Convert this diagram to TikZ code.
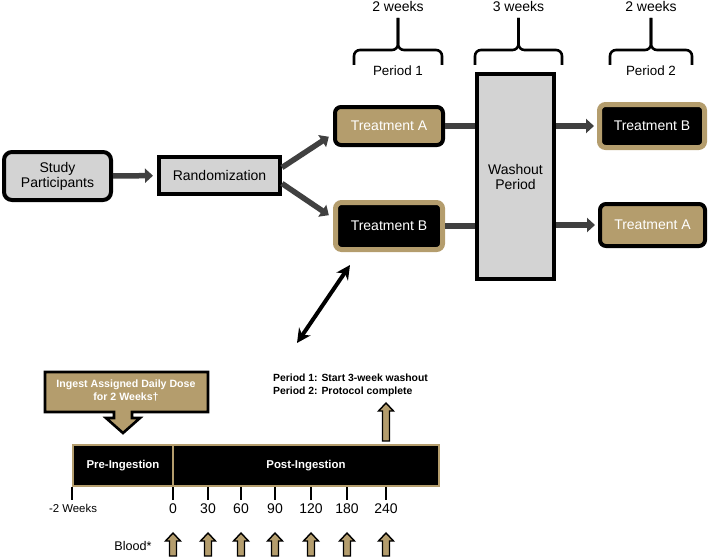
\documentclass[tikz,border=0pt]{standalone}
\usepackage{fontspec}
\setmainfont{Liberation Sans}
\usetikzlibrary{arrows.meta}
\definecolor{gold}{RGB}{180,157,109}
\definecolor{boxgray}{RGB}{211,211,211}
\definecolor{flowgray}{RGB}{64,64,64}

\begin{document}
\begin{tikzpicture}[x=1pt,y=-1pt,
  every node/.style={font=\fontsize{14}{16}\selectfont,inner sep=0pt},
  graybox/.style={draw=black,fill=boxgray,line width=4pt,align=center},
  goldbox/.style={draw=black,fill=gold,line width=4pt,rounded corners=6pt,text=white},
  blackbox/.style={draw=gold,fill=black,line width=5pt,rounded corners=6pt,text=white},
  flow/.style={draw=flowgray,line width=5.5pt,-{Triangle[length=8pt,width=14pt]}},
  link/.style={draw=flowgray,line width=5.5pt},
  brace/.style={line width=2.6pt,rounded corners=6pt},
  phase/.style={draw=gold,fill=black,line width=2pt,minimum height=41pt,text=white,
    font=\fontsize{11.4}{13}\selectfont\bfseries},
  uparrow/.style={draw=black,fill=gold,line width=1.4pt,line join=miter},
  zoomarrow/.style={line width=4pt,{Stealth[length=14pt,width=14pt]}-{Stealth[length=14pt,width=14pt]}}]
\useasboundingbox (0,0) rectangle (708,559);
\def\period#1#2{
  \draw[brace] (#1,65) -- (#1,50) -- ({(#1+#2)/2},50) -- ({(#1+#2)/2},18);
  \draw[brace] (#2,65) -- (#2,50) -- ({(#1+#2)/2},50) -- ({(#1+#2)/2},18);
}
\def\blockarrow#1#2#3{
  \draw[uparrow] (#1,#2) -- (#1+7.5,#2+8) -- (#1+3.5,#2+8) -- (#1+3.5,#3)
    -- (#1-3.5,#3) -- (#1-3.5,#2+8) -- (#1-7.5,#2+8) -- cycle;
}
    % Crossover design
\node[graybox,rounded corners=8pt,minimum width=107pt,minimum height=48pt] (study) at (57.5,176) {Study\\[-1pt]Participants};
\node[graybox,minimum width=121pt,minimum height=37pt] (rand) at (219.5,175.5) {Randomization};
\node[goldbox,minimum width=108pt,minimum height=38pt] (trA1) at (389,126) {Treatment A};
\node[blackbox,minimum width=107pt,minimum height=47pt] (trB1) at (389,226) {Treatment B};
\node[graybox,minimum width=77pt,minimum height=205pt] (wash) at (515.5,176.5) {Washout\\[-1pt]Period};
\node[blackbox,minimum width=105pt,minimum height=43pt] (trB2) at (652,126) {Treatment B};
\node[goldbox,minimum width=105pt,minimum height=42pt] (trA2) at (652.5,225) {Treatment A};
\draw[flow,shorten >=4pt] (study) -- (rand);
\draw[flow,shorten >=5pt] ([yshift=8pt]rand.east) -- ([yshift=-8pt]trA1.west);
\draw[flow,shorten >=5pt] ([yshift=-8pt]rand.east) -- ([yshift=8pt]trB1.west);
\draw[link] (trA1.east) -- (trA1.east -| wash.west);
\draw[link] (trB1.east) -- (trB1.east -| wash.west);
\draw[flow,shorten >=3pt] (wash.east |- trB2.west) -- (trB2.west);
\draw[flow,shorten >=3pt] (wash.east |- trA2.west) -- (trA2.west);
    % Period braces
\period{354}{442}
\period{475}{562}
\period{610}{692}
\node (wk1) at (398,6) {2 weeks};
\node (wk2) at (518.5,6) {3 weeks};
\node (wk3) at (651,6) {2 weeks};
\node[font=\fontsize{13.4}{15}\selectfont] (per1) at (398,71) {Period 1};
\node[font=\fontsize{13.4}{15}\selectfont] (per2) at (651,71) {Period 2};
\coordinate (zoomfrom) at (350,265);
\coordinate (zoomto) at (297,343);
\draw[zoomarrow] (zoomfrom) -- (zoomto);
    % Timeline of one period
\draw[uparrow,line width=2.6pt] (45,372) -- (208,372) -- (208,412) -- (132,412) -- (132,418) -- (140,418)
  -- (123,433) -- (106,418) -- (114,418) -- (114,412) -- (45,412) -- cycle;
\node[align=center,text=white,font=\fontsize{10.6}{13}\selectfont\bfseries] (ingest) at (126,391)
  {Ingest Assigned Daily Dose\\for 2 Weeks†};
\node[anchor=west,align=left,font=\fontsize{10.4}{13}\selectfont\bfseries] (endnote) at (273,385.5)
  {Period 1: Start 3-week washout\\Period 2: Protocol complete};
\node[phase,minimum width=100pt] (pre) at (123,465.5) {Pre-Ingestion};
\node[phase,minimum width=266pt] (post) at (306,465.5) {Post-Ingestion};
\draw[line width=1.5pt] (pre.south west) -- ++(0,13);
\node[font=\fontsize{11.4}{13}\selectfont] (weeks) at (73,508.5) {-2 Weeks};
\foreach \x/\t in {173/0,208/30,241/60,275/90,311/120,347/180,386/240} {
  \draw[line width=1.5pt] (\x,487) -- (\x,500);
  \node (time\t) at (\x,508.5) {\t};
  \blockarrow{\x}{533}{556}
}
\blockarrow{386}{403}{441}
\node[font=\fontsize{12.6}{14}\selectfont] (blood) at (133,546) {Blood*};
\end{tikzpicture}
\end{document}
